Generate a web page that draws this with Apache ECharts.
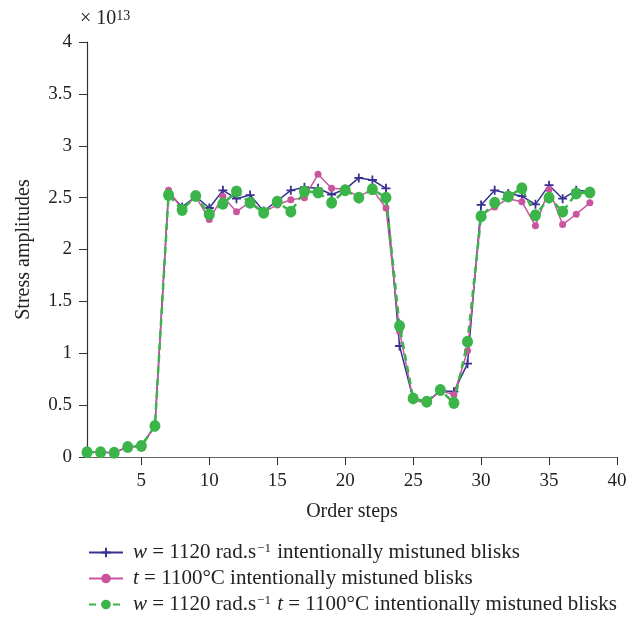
<!DOCTYPE html>
<html><head><meta charset="utf-8">
<script src="https://cdn.jsdelivr.net/npm/echarts@6/dist/echarts.min.js"></script>
<style>html,body{margin:0;padding:0;background:#fff}#c{width:638px;height:618px}</style>
</head><body><div id="c"></div>
<script>
const steps = [1,2,3,4,5,6,7,8,9,10,11,12,13,14,15,16,17,18,19,20,21,22,23,24,25,26,27,28,29,30,31,32,33,34,35,36,37,38];
const speedMistuned = [0.045,0.045,0.042,0.096,0.106,0.30,2.55,2.41,2.51,2.40,2.57,2.49,2.525,2.37,2.47,2.57,2.60,2.59,2.53,2.58,2.69,2.67,2.59,1.07,0.56,0.53,0.64,0.63,0.90,2.43,2.57,2.54,2.515,2.435,2.62,2.49,2.57,2.56];
const tempMistuned = [0.045,0.045,0.042,0.096,0.106,0.30,2.57,2.39,2.51,2.29,2.51,2.365,2.46,2.36,2.43,2.48,2.50,2.725,2.59,2.58,2.51,2.58,2.40,1.21,0.55,0.52,0.64,0.60,1.025,2.33,2.41,2.49,2.46,2.23,2.58,2.24,2.34,2.45];
const bothMistuned = [0.045,0.045,0.042,0.096,0.106,0.30,2.525,2.38,2.515,2.34,2.44,2.56,2.45,2.355,2.46,2.365,2.56,2.55,2.45,2.57,2.50,2.58,2.50,1.263,0.565,0.533,0.646,0.52,1.11,2.32,2.45,2.51,2.59,2.33,2.50,2.365,2.54,2.55];
const xTicks = [5,10,15,20,25,30,35,40];
const seriesNames = ['s1','s2','s3'];

const serif = '"Liberation Serif", "DejaVu Serif", serif';
const txt = '#222';
const pair = arr => steps.map((s,i)=>[s,arr[i]]);
const legendRich = {
  it: {fontStyle:'italic', fontSize:21, fontFamily:serif, color:txt},
  sup: {fontSize:13, fontFamily:serif, color:txt, verticalAlign:'top', lineHeight:12, padding:[0,1,0,1]},
  n: {fontSize:21, fontFamily:serif, color:txt}
};
const legendText = {
  s1: '{it|w}{n| = 1120 rad.s}{sup|−1}{n| intentionally mistuned blisks}',
  s2: '{it|t}{n| = 1100°C intentionally mistuned blisks}',
  s3: '{it|w}{n| = 1120 rad.s}{sup|−1}{n| }{it|t}{n| = 1100°C intentionally mistuned blisks}'
};
const legendTops = [537, 563, 589];
const mkLegend = (name, i) => ({
  orient:'horizontal', left:83, top:legendTops[i],
  itemWidth:34, itemHeight:12, itemGap:0,
  data:[name],
  formatter:n=>legendText[n],
  textStyle:{fontFamily:serif,fontSize:21,color:txt,rich:legendRich,padding:[0,0,0,5]}
});

const chart = echarts.init(document.getElementById('c'));
chart.setOption({
  animation:false,
  backgroundColor:'#fff',
  grid:{left:87,right:21,top:42,bottom:161,containLabel:false},
  xAxis:{
    type:'value', min:1, max:40,
    name:'Order steps', nameLocation:'middle', nameGap:45,
    nameTextStyle:{fontFamily:serif,fontSize:20,color:txt},
    axisLine:{show:true,lineStyle:{color:'#666',width:1.2}},
    axisTick:{show:true,customValues:xTicks,length:8,inside:false,lineStyle:{color:'#333'}},
    axisLabel:{customValues:xTicks,fontFamily:serif,fontSize:19,color:txt,margin:15},
    splitLine:{show:false}
  },
  yAxis:{
    type:'value', min:0, max:4, interval:0.5,
    name:'Stress amplitudes', nameLocation:'middle', nameGap:53,
    nameTextStyle:{fontFamily:serif,fontSize:20,color:txt},
    axisLine:{show:true,lineStyle:{color:'#333',width:1.2}},
    axisTick:{show:true,length:8,lineStyle:{color:'#333'}},
    axisLabel:{fontFamily:serif,fontSize:19,color:txt,margin:15,formatter:v=>String(v)},
    splitLine:{show:false}
  },
  legend: seriesNames.map(mkLegend),
  graphic:[{
    type:'text', left:80, top:9,
    style:{text:'× 10{s|13}', rich:{s:{fontSize:14,fontFamily:serif,fill:txt,verticalAlign:'top',lineHeight:12}}, fontFamily:serif, fontSize:20, fill:txt}
  }],
  series:[
    {name:'s1', type:'line', data:pair(speedMistuned), color:'#38318f',
     symbol:'path://M4,0H6V4H10V6H6V10H4V6H0V4H4Z', symbolSize:9,
     lineStyle:{width:1.5,color:'#38318f'}, itemStyle:{color:'#38318f'}, z:2},
    {name:'s2', type:'line', data:pair(tempMistuned), color:'#c9559f',
     symbol:'circle', symbolSize:7,
     lineStyle:{width:1.5,color:'#c9559f'}, itemStyle:{color:'#c9559f'}, z:3},
    {name:'s3', type:'line', data:pair(bothMistuned), color:'#3bb54a',
     symbol:'circle', symbolSize:[11,12],
     lineStyle:{width:2.5,type:[7,5],color:'#3bb54a'}, itemStyle:{color:'#3bb54a'}, z:4}
  ]
});
</script></body></html>
